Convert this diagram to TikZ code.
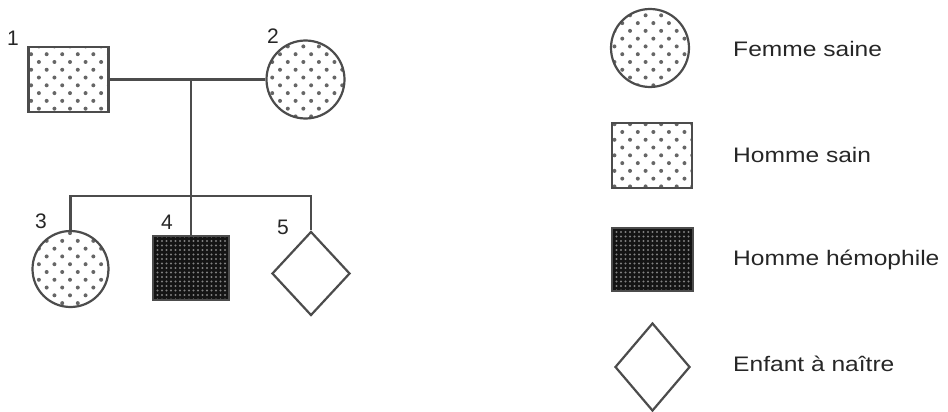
\documentclass[tikz,border=0pt]{standalone}
\usepackage{fontspec}
\setmainfont{Liberation Sans}
\usetikzlibrary{shapes.geometric, patterns.meta}

\tikzset{
  trait/.style={draw=black!70, line width=2.2pt},
  sain/.style={trait, pattern={Dots[distance=11pt, angle=45, radius=2pt]}, pattern color=black!60},
  malade/.style={trait, preaction={fill=black!92}, pattern={Dots[distance=4.5pt, radius=1.1pt]}, pattern color=black!50},
  femme/.style={circle, inner sep=0pt, minimum size=78pt},
  homme/.style={rectangle, inner sep=0pt, minimum width=80pt, minimum height=65pt},
  enfant/.style={trait, diamond, inner sep=0pt, fill=white, minimum width=78pt, minimum height=84pt},
  numero/.style={font=\fontsize{21}{21}\selectfont, text=black!85, inner sep=0pt},
  legende/.style={font=\fontsize{21}{21}\selectfont, text=black!85, xscale=1.17, anchor=west, inner sep=0pt}
}

\begin{document}
\begin{tikzpicture}[x=1pt, y=-1pt]
  \useasboundingbox (0,0) rectangle (948,412);

  % Parents
  \node[homme, sain] (p1) at (68.5,79.5) {};
  \node[femme, sain] (p2) at (305.5,79.5) {};
  \node[numero] (n1) at (13,38) {1};
  \node[numero] (n2) at (273,36) {2};

  % Enfants
  \node[femme, sain, minimum size=76pt] (e3) at (70.5,269) {};
  \node[homme, malade, minimum width=76pt, minimum height=64pt] (e4) at (191,268) {};
  \node[enfant] (e5) at (311,273.5) {};
  \node[numero] (n3) at (41,221) {3};
  \node[numero] (n4) at (167,222) {4};
  \node[numero] (n5) at (283,227) {5};

  % Liens
  \draw[trait] (p1.east) -- (p2.west);
  \coordinate (union) at (e4.north |- p1.east);
  \coordinate (fratrie) at (191,196);
  \draw[trait] (union) -- (e4.north);
  \draw[trait] (e3.north) |- (fratrie) -| (e5.north);

  % Legende
  \node[femme, sain] (lf) at (650,48) {};
  \node[homme, sain] (lh) at (652,155.5) {};
  \node[homme, malade, minimum width=81pt, minimum height=63pt] (lm) at (652.5,259.5) {};
  \node[enfant, minimum width=75pt, minimum height=88pt] (le) at (652.5,367) {};
  \node[legende] (tf) at (733,49) {Femme saine};
  \node[legende] (th) at (733,155) {Homme sain};
  \node[legende] (tm) at (733,260) {Homme hémophile};
  \node[legende] (te) at (733,364) {Enfant à naître};
\end{tikzpicture}
\end{document}
